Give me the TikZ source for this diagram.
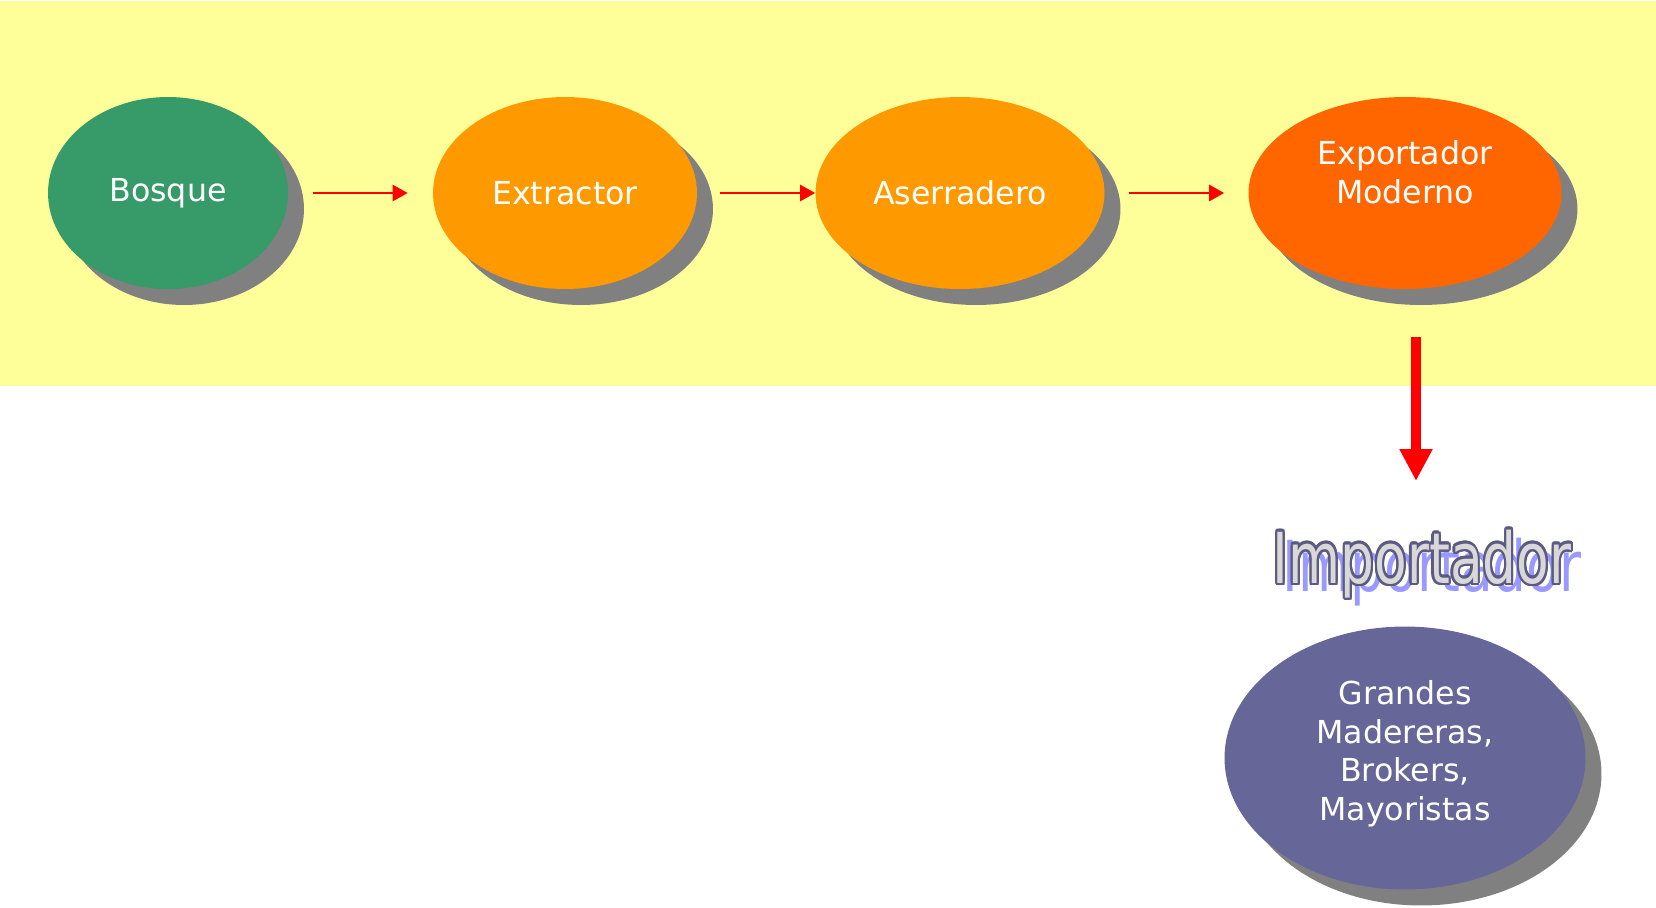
\documentclass[tikz,border=0pt]{standalone}
\usepackage{fontspec}
\setmainfont{DejaVu Sans}
\usepackage{contour}
\contourlength{1.6pt}
\usetikzlibrary{shapes.geometric,shadows,arrows.meta}

\definecolor{bandyellow}{HTML}{FFFF99}
\definecolor{forestgreen}{HTML}{379A69}
\definecolor{woodorange}{HTML}{FF9900}
\definecolor{exportorange}{HTML}{FF6600}
\definecolor{importpurple}{HTML}{666699}
\definecolor{shadowgray}{HTML}{808080}
\definecolor{titleline}{HTML}{5A5A82}
\definecolor{titlefill}{HTML}{D8D8D8}
\definecolor{titleshadow}{HTML}{9999FF}

\begin{document}
\begin{tikzpicture}[
		x=0.02cm, y=-0.02cm,
		stage/.style={ellipse, inner sep=0pt, text=white, align=center,
			font=\fontsize{18}{22}\selectfont,
			general shadow={fill=shadowgray, shadow xshift=0.32cm, shadow yshift=-0.32cm}},
		flow/.style={draw=red, line width=1.5pt, -{Triangle[length=0.3cm, width=0.32cm]}},
		bigflow/.style={draw=red, line width=5.7pt, -{Triangle[length=0.64cm, width=0.62cm]}},
		title/.style={inner sep=0pt, anchor=base, xscale=0.76, font=\fontsize{40}{40}\selectfont}
	]
  \useasboundingbox (0,0) rectangle (1656,907);
  \fill[bandyellow] (0,1) rectangle (1656,386);

  \node (bosque) [stage, fill=forestgreen, minimum width=4.8cm, minimum height=3.84cm] at (168,193) {Bosque};
  \node (extractor) [stage, fill=woodorange, minimum width=5.28cm, minimum height=3.84cm] at (565,193) {Extractor};
  \node (aserradero) [stage, fill=woodorange, minimum width=5.78cm, minimum height=3.84cm] at (960,193) {Aserradero};
  \node (exportador) [stage, fill=exportorange, minimum width=6.26cm, minimum height=3.84cm] at (1405,193)
    {\raisebox{0.18cm}[0pt][0pt]{\begin{tabular}{@{}c@{}}Exportador\\Moderno\end{tabular}}};
  \node (grandes) [stage, fill=importpurple, minimum width=7.22cm, minimum height=5.26cm] at (1405,758)
    {\raisebox{-0.09cm}[0pt][0pt]{\begin{tabular}{@{}c@{}}Grandes\\Madereras,\\Brokers,\\Mayoristas\end{tabular}}};

  \node (importador_shadow) [title, text=titleshadow] at (1432,591) {Importador};
  \node (importador) [title] at (1422,583) {\contour{titleline}{\textcolor{titlefill}{Importador}}};

  \coordinate (drop_top) at (1416,337);
  \coordinate (drop_end) at (1416,481);

  \draw[flow, shorten <=0.5cm, shorten >=0.5cm] (bosque) -- (extractor);
  \draw[flow, shorten <=0.46cm] (extractor) -- (aserradero);
  \draw[flow, shorten <=0.48cm, shorten >=0.48cm] (aserradero) -- (exportador);
  \draw[bigflow] (drop_top) -- (drop_end);
\end{tikzpicture}
\end{document}
